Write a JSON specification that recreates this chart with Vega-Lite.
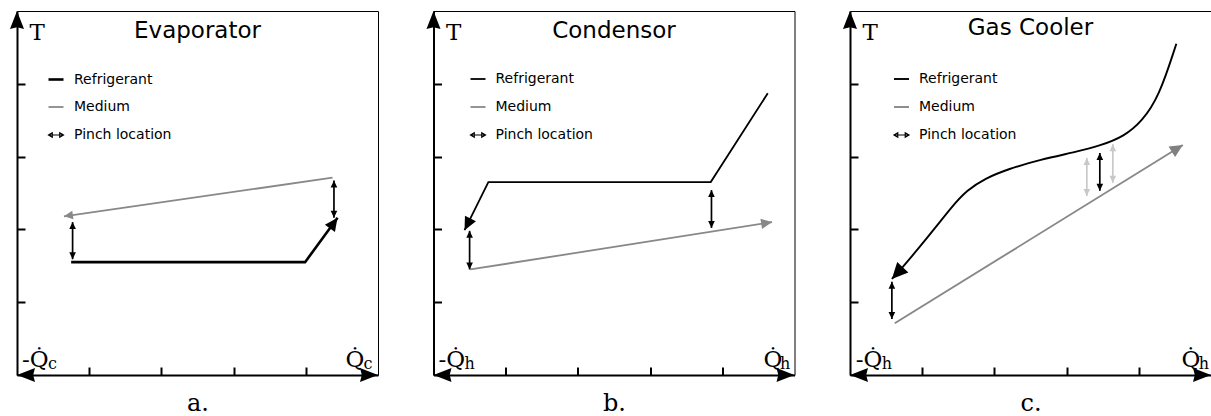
{
  "$schema": "https://vega.github.io/schema/vega-lite/v6.json",
  "autosize": {"type": "pad"},
  "padding": {"left": 9, "top": 10, "right": 0, "bottom": 0},
  "spacing": 55.5,
  "bounds": "flush",
  "config": {
    "view": {"stroke": "#000", "strokeWidth": 1},
    "axis": {
      "domainColor": "#000", "domainWidth": 2, "tickColor": "#000", "tickWidth": 2, "tickSize": -8,
      "labels": false, "grid": false, "titleFont": "DejaVu Serif", "titleFontWeight": "normal", "titleColor": "#000"
    },
    "legend": {
      "orient": "none", "title": null, "padding": 0, "symbolSize": 225, "symbolStrokeWidth": 2, "symbolType": "stroke",
      "labelFont": "DejaVu Sans", "labelFontSize": 14, "labelColor": "#000", "labelOffset": 9, "rowPadding": 12, "symbolOffset": 0
    },
    "title": {"font": "DejaVu Sans", "fontSize": 23, "fontWeight": "normal", "color": "#000", "anchor": "middle", "baseline": "alphabetic", "frame": "group"}
  },
  "resolve": {
    "scale": {"color": "independent", "shape": "independent", "size": "independent", "fill": "independent", "stroke": "independent", "strokeWidth": "independent", "x": "independent", "y": "independent"},
    "legend": {"color": "independent", "shape": "independent", "strokeWidth": "independent"}
  },
  "datasets": {
    "lines": [
      {"panel": "a", "series": "Refrigerant", "ord": 1, "x": 0.75, "y": 1.55},
      {"panel": "a", "series": "Refrigerant", "ord": 2, "x": 3.99, "y": 1.55},
      {"panel": "a", "series": "Refrigerant", "ord": 3, "x": 4.44, "y": 2.16},
      {"panel": "a", "series": "Medium", "ord": 1, "x": 0.65, "y": 2.18},
      {"panel": "a", "series": "Medium", "ord": 2, "x": 4.37, "y": 2.71},
      {"panel": "b", "series": "Refrigerant", "ord": 1, "x": 0.43, "y": 1.99},
      {"panel": "b", "series": "Refrigerant", "ord": 2, "x": 0.76, "y": 2.65},
      {"panel": "b", "series": "Refrigerant", "ord": 3, "x": 3.84, "y": 2.65},
      {"panel": "b", "series": "Refrigerant", "ord": 4, "x": 4.63, "y": 3.87},
      {"panel": "b", "series": "Medium", "ord": 1, "x": 0.51, "y": 1.45},
      {"panel": "b", "series": "Medium", "ord": 2, "x": 4.69, "y": 2.1},
      {"panel": "c", "series": "Refrigerant", "ord": 1, "x": 0.58, "y": 1.32},
      {"panel": "c", "series": "Refrigerant", "ord": 2, "x": 0.72, "y": 1.47},
      {"panel": "c", "series": "Refrigerant", "ord": 3, "x": 0.95, "y": 1.74},
      {"panel": "c", "series": "Refrigerant", "ord": 4, "x": 1.18, "y": 2.02},
      {"panel": "c", "series": "Refrigerant", "ord": 5, "x": 1.4, "y": 2.3},
      {"panel": "c", "series": "Refrigerant", "ord": 6, "x": 1.62, "y": 2.54},
      {"panel": "c", "series": "Refrigerant", "ord": 7, "x": 1.87, "y": 2.7},
      {"panel": "c", "series": "Refrigerant", "ord": 8, "x": 2.19, "y": 2.83},
      {"panel": "c", "series": "Refrigerant", "ord": 9, "x": 2.64, "y": 2.96},
      {"panel": "c", "series": "Refrigerant", "ord": 10, "x": 3.11, "y": 3.06},
      {"panel": "c", "series": "Refrigerant", "ord": 11, "x": 3.47, "y": 3.15},
      {"panel": "c", "series": "Refrigerant", "ord": 12, "x": 3.8, "y": 3.28},
      {"panel": "c", "series": "Refrigerant", "ord": 13, "x": 4.04, "y": 3.48},
      {"panel": "c", "series": "Refrigerant", "ord": 14, "x": 4.28, "y": 3.82},
      {"panel": "c", "series": "Refrigerant", "ord": 15, "x": 4.52, "y": 4.55},
      {"panel": "c", "series": "Medium", "ord": 1, "x": 0.62, "y": 0.71},
      {"panel": "c", "series": "Medium", "ord": 2, "x": 4.61, "y": 3.16}
    ],
    "pinch": [
      {"panel": "a", "kind": "pinch", "x": 0.77, "y": 2.1, "y2": 1.59},
      {"panel": "a", "kind": "pinch", "x": 4.39, "y": 2.67, "y2": 2.16},
      {"panel": "b", "kind": "pinch", "x": 0.5, "y": 1.98, "y2": 1.45},
      {"panel": "b", "kind": "pinch", "x": 3.85, "y": 2.54, "y2": 2.02},
      {"panel": "c", "kind": "pinch", "x": 0.58, "y": 1.28, "y2": 0.77},
      {"panel": "c", "kind": "pinch", "x": 3.46, "y": 3.05, "y2": 2.53},
      {"panel": "c", "kind": "pinch-light", "x": 3.28, "y": 2.98, "y2": 2.46},
      {"panel": "c", "kind": "pinch-light", "x": 3.64, "y": 3.17, "y2": 2.64}
    ],
    "heads": [
      {"panel": "a", "kind": "axis", "x": 0, "y": 5, "dir": 0},
      {"panel": "a", "kind": "axis", "x": 0, "y": 0, "dir": 270},
      {"panel": "a", "kind": "axis", "x": 5, "y": 0, "dir": 90},
      {"panel": "a", "kind": "Refrigerant", "x": 4.44, "y": 2.16, "dir": 36},
      {"panel": "a", "kind": "Medium", "x": 0.65, "y": 2.18, "dir": 262},
      {"panel": "a", "kind": "pinch", "x": 0.77, "y": 2.1, "dir": 0},
      {"panel": "a", "kind": "pinch", "x": 0.77, "y": 1.59, "dir": 180},
      {"panel": "a", "kind": "pinch", "x": 4.39, "y": 2.67, "dir": 0},
      {"panel": "a", "kind": "pinch", "x": 4.39, "y": 2.16, "dir": 180},
      {"panel": "b", "kind": "axis", "x": 0, "y": 5, "dir": 0},
      {"panel": "b", "kind": "axis", "x": 0, "y": 0, "dir": 270},
      {"panel": "b", "kind": "axis", "x": 5, "y": 0, "dir": 90},
      {"panel": "b", "kind": "Refrigerant", "x": 0.43, "y": 1.99, "dir": 207},
      {"panel": "b", "kind": "Medium", "x": 4.69, "y": 2.1, "dir": 81},
      {"panel": "b", "kind": "pinch", "x": 0.5, "y": 1.98, "dir": 0},
      {"panel": "b", "kind": "pinch", "x": 0.5, "y": 1.45, "dir": 180},
      {"panel": "b", "kind": "pinch", "x": 3.85, "y": 2.54, "dir": 0},
      {"panel": "b", "kind": "pinch", "x": 3.85, "y": 2.02, "dir": 180},
      {"panel": "c", "kind": "axis", "x": 0, "y": 5, "dir": 0},
      {"panel": "c", "kind": "axis", "x": 0, "y": 0, "dir": 270},
      {"panel": "c", "kind": "axis", "x": 5, "y": 0, "dir": 90},
      {"panel": "c", "kind": "Refrigerant", "x": 0.58, "y": 1.32, "dir": 223},
      {"panel": "c", "kind": "Medium", "x": 4.61, "y": 3.16, "dir": 58},
      {"panel": "c", "kind": "pinch", "x": 0.58, "y": 1.28, "dir": 0},
      {"panel": "c", "kind": "pinch", "x": 0.58, "y": 0.77, "dir": 180},
      {"panel": "c", "kind": "pinch", "x": 3.46, "y": 3.05, "dir": 0},
      {"panel": "c", "kind": "pinch", "x": 3.46, "y": 2.53, "dir": 180},
      {"panel": "c", "kind": "pinch-light", "x": 3.28, "y": 2.98, "dir": 0},
      {"panel": "c", "kind": "pinch-light", "x": 3.28, "y": 2.46, "dir": 180},
      {"panel": "c", "kind": "pinch-light", "x": 3.64, "y": 3.17, "dir": 0},
      {"panel": "c", "kind": "pinch-light", "x": 3.64, "y": 2.64, "dir": 180}
    ],
    "qlabels": [
      {"panel": "a", "part": "main", "x": 0.07, "y": 0.11, "text": "-Q̇"},
      {"panel": "a", "part": "sub", "x": 0.43, "y": 0.08, "text": "c"},
      {"panel": "a", "part": "main", "x": 4.55, "y": 0.11, "text": "Q̇"},
      {"panel": "a", "part": "sub", "x": 4.8, "y": 0.08, "text": "c"},
      {"panel": "b", "part": "main", "x": 0.07, "y": 0.11, "text": "-Q̇"},
      {"panel": "b", "part": "sub", "x": 0.43, "y": 0.08, "text": "h"},
      {"panel": "b", "part": "main", "x": 4.57, "y": 0.11, "text": "Q̇"},
      {"panel": "b", "part": "sub", "x": 4.8, "y": 0.08, "text": "h"},
      {"panel": "c", "part": "main", "x": 0.08, "y": 0.11, "text": "-Q̇"},
      {"panel": "c", "part": "sub", "x": 0.44, "y": 0.08, "text": "h"},
      {"panel": "c", "part": "main", "x": 4.59, "y": 0.11, "text": "Q̇"},
      {"panel": "c", "part": "sub", "x": 4.83, "y": 0.08, "text": "h"}
    ]
  },
  "hconcat": [
    {
      "width": 361, "height": 364,
      "title": {"text": "Evaporator", "offset": -32},
      "encoding": {
        "x": {"field": "x", "type": "quantitative", "scale": {"domain": [0, 5], "nice": false, "zero": false}, "axis": {"values": [1, 2, 3, 4], "title": "a.", "titleFontSize": 24, "titleY": 35, "titleBaseline": "alphabetic"}},
        "y": {"field": "y", "type": "quantitative", "scale": {"domain": [0, 5], "nice": false, "zero": false}, "axis": {"values": [1, 2, 3, 4], "title": "T", "titleAngle": 0, "titleX": 12, "titleY": 28, "titleAlign": "left", "titleBaseline": "alphabetic", "titleFontSize": 23}}
      },
      "layer": [
        {
          "data": {"name": "lines"},
          "transform": [{"filter": "datum.panel === 'a'"}],
          "mark": {"type": "line", "interpolate": "linear"},
          "encoding": {
            "order": {"field": "ord", "type": "quantitative"},
            "strokeWidth": {"field": "series", "type": "ordinal", "scale": {"type": "ordinal", "domain": ["Refrigerant", "Medium", "Pinch location"], "range": [2.6, 1.8, 1.2]}, "legend": {"legendX": 30, "legendY": 59.5}},
            "color": {"field": "series", "type": "nominal", "scale": {"domain": ["Refrigerant", "Medium", "Pinch location"], "range": ["#000000", "#888888", "#000000"]}, "legend": {"legendX": 30, "legendY": 59.5}}
          }
        },
        {
          "data": {"name": "lines"},
          "transform": [{"filter": "false"}],
          "mark": {"type": "point", "filled": false, "opacity": 1},
          "encoding": {
            "color": {"field": "series", "type": "nominal", "scale": {"domain": ["Refrigerant", "Medium", "Pinch location"], "range": ["#000000", "#888888", "#000000"]}, "legend": {"legendX": 30, "legendY": 59.5}},
            "shape": {"field": "series", "type": "nominal", "scale": {"domain": ["Refrigerant", "Medium", "Pinch location"], "range": ["stroke", "stroke", "M-1,0L1,0M-1,0L-0.5,-0.3L-0.5,0.3ZM1,0L0.5,-0.3L0.5,0.3Z"]}, "legend": {"legendX": 30, "legendY": 59.5}}
          }
        },
        {
          "data": {"name": "pinch"},
          "transform": [{"filter": "datum.panel === 'a'"}],
          "mark": {"type": "rule", "strokeWidth": 1.7},
          "encoding": {"y2": {"field": "y2"}, "stroke": {"field": "kind", "type": "nominal", "scale": {"domain": ["pinch", "pinch-light"], "range": ["#000000", "#c8c8c8"]}, "legend": null}}
        },
        {
          "data": {"name": "heads"},
          "transform": [{"filter": "datum.panel === 'a' && datum.kind === 'axis'"}],
          "mark": {"type": "point", "shape": "M0,0L-0.78,2L0,1.8L0.78,2Z", "size": 324, "filled": true, "opacity": 1, "strokeWidth": 0, "color": "#000"},
          "encoding": {"angle": {"field": "dir", "type": "quantitative", "scale": {"domain": [0, 360], "range": [0, 360]}}}
        },
        {
          "data": {"name": "heads"},
          "transform": [{"filter": "datum.panel === 'a' && datum.kind !== 'axis'"}],
          "mark": {"type": "point", "shape": "M0,0L-0.95,2L0.95,2Z", "filled": true, "opacity": 1, "strokeWidth": 0},
          "encoding": {
            "angle": {"field": "dir", "type": "quantitative", "scale": {"domain": [0, 360], "range": [0, 360]}},
            "size": {"field": "kind", "type": "ordinal", "scale": {"type": "ordinal", "domain": ["pinch", "pinch-light", "Refrigerant", "Medium"], "range": [49, 49, 169, 81]}, "legend": null},
            "fill": {"field": "kind", "type": "nominal", "scale": {"domain": ["pinch", "pinch-light", "Refrigerant", "Medium"], "range": ["#000000", "#c8c8c8", "#000000", "#888888"]}, "legend": null}
          }
        },
        {
          "data": {"name": "qlabels"},
          "transform": [{"filter": "datum.panel === 'a' && datum.part === 'main'"}],
          "mark": {"type": "text", "font": "DejaVu Serif", "fontSize": 23, "align": "left", "baseline": "alphabetic", "color": "#000"},
          "encoding": {"text": {"field": "text"}}
        },
        {
          "data": {"name": "qlabels"},
          "transform": [{"filter": "datum.panel === 'a' && datum.part === 'sub'"}],
          "mark": {"type": "text", "font": "DejaVu Serif", "fontSize": 16, "align": "left", "baseline": "alphabetic", "color": "#000"},
          "encoding": {"text": {"field": "text"}}
        }
      ]
    },
    {
      "width": 361, "height": 364,
      "title": {"text": "Condensor", "offset": -32},
      "encoding": {
        "x": {"field": "x", "type": "quantitative", "scale": {"domain": [0, 5], "nice": false, "zero": false}, "axis": {"values": [1, 2, 3, 4], "title": "b.", "titleFontSize": 24, "titleY": 35, "titleBaseline": "alphabetic"}},
        "y": {"field": "y", "type": "quantitative", "scale": {"domain": [0, 5], "nice": false, "zero": false}, "axis": {"values": [1, 2, 3, 4], "title": "T", "titleAngle": 0, "titleX": 12, "titleY": 28, "titleAlign": "left", "titleBaseline": "alphabetic", "titleFontSize": 23}}
      },
      "layer": [
        {
          "data": {"name": "lines"},
          "transform": [{"filter": "datum.panel === 'b'"}],
          "mark": {"type": "line", "interpolate": "linear"},
          "encoding": {
            "order": {"field": "ord", "type": "quantitative"},
            "strokeWidth": {"field": "series", "type": "ordinal", "scale": {"type": "ordinal", "domain": ["Refrigerant", "Medium", "Pinch location"], "range": [1.8, 1.8, 1.2]}, "legend": {"legendX": 36, "legendY": 59.5}},
            "color": {"field": "series", "type": "nominal", "scale": {"domain": ["Refrigerant", "Medium", "Pinch location"], "range": ["#000000", "#888888", "#000000"]}, "legend": {"legendX": 36, "legendY": 59.5}}
          }
        },
        {
          "data": {"name": "lines"},
          "transform": [{"filter": "false"}],
          "mark": {"type": "point", "filled": false, "opacity": 1},
          "encoding": {
            "color": {"field": "series", "type": "nominal", "scale": {"domain": ["Refrigerant", "Medium", "Pinch location"], "range": ["#000000", "#888888", "#000000"]}, "legend": {"legendX": 36, "legendY": 59.5}},
            "shape": {"field": "series", "type": "nominal", "scale": {"domain": ["Refrigerant", "Medium", "Pinch location"], "range": ["stroke", "stroke", "M-1,0L1,0M-1,0L-0.5,-0.3L-0.5,0.3ZM1,0L0.5,-0.3L0.5,0.3Z"]}, "legend": {"legendX": 36, "legendY": 59.5}}
          }
        },
        {
          "data": {"name": "pinch"},
          "transform": [{"filter": "datum.panel === 'b'"}],
          "mark": {"type": "rule", "strokeWidth": 1.7},
          "encoding": {"y2": {"field": "y2"}, "stroke": {"field": "kind", "type": "nominal", "scale": {"domain": ["pinch", "pinch-light"], "range": ["#000000", "#c8c8c8"]}, "legend": null}}
        },
        {
          "data": {"name": "heads"},
          "transform": [{"filter": "datum.panel === 'b' && datum.kind === 'axis'"}],
          "mark": {"type": "point", "shape": "M0,0L-0.78,2L0,1.8L0.78,2Z", "size": 324, "filled": true, "opacity": 1, "strokeWidth": 0, "color": "#000"},
          "encoding": {"angle": {"field": "dir", "type": "quantitative", "scale": {"domain": [0, 360], "range": [0, 360]}}}
        },
        {
          "data": {"name": "heads"},
          "transform": [{"filter": "datum.panel === 'b' && datum.kind !== 'axis'"}],
          "mark": {"type": "point", "shape": "M0,0L-0.95,2L0.95,2Z", "filled": true, "opacity": 1, "strokeWidth": 0},
          "encoding": {
            "angle": {"field": "dir", "type": "quantitative", "scale": {"domain": [0, 360], "range": [0, 360]}},
            "size": {"field": "kind", "type": "ordinal", "scale": {"type": "ordinal", "domain": ["pinch", "pinch-light", "Refrigerant", "Medium"], "range": [49, 49, 169, 121]}, "legend": null},
            "fill": {"field": "kind", "type": "nominal", "scale": {"domain": ["pinch", "pinch-light", "Refrigerant", "Medium"], "range": ["#000000", "#c8c8c8", "#000000", "#888888"]}, "legend": null}
          }
        },
        {
          "data": {"name": "qlabels"},
          "transform": [{"filter": "datum.panel === 'b' && datum.part === 'main'"}],
          "mark": {"type": "text", "font": "DejaVu Serif", "fontSize": 23, "align": "left", "baseline": "alphabetic", "color": "#000"},
          "encoding": {"text": {"field": "text"}}
        },
        {
          "data": {"name": "qlabels"},
          "transform": [{"filter": "datum.panel === 'b' && datum.part === 'sub'"}],
          "mark": {"type": "text", "font": "DejaVu Serif", "fontSize": 16, "align": "left", "baseline": "alphabetic", "color": "#000"},
          "encoding": {"text": {"field": "text"}}
        }
      ]
    },
    {
      "width": 361, "height": 364,
      "title": {"text": "Gas Cooler", "offset": -29},
      "encoding": {
        "x": {"field": "x", "type": "quantitative", "scale": {"domain": [0, 5], "nice": false, "zero": false}, "axis": {"values": [1, 2, 3, 4], "title": "c.", "titleFontSize": 24, "titleY": 35, "titleBaseline": "alphabetic"}},
        "y": {"field": "y", "type": "quantitative", "scale": {"domain": [0, 5], "nice": false, "zero": false}, "axis": {"values": [1, 2, 3, 4], "title": "T", "titleAngle": 0, "titleX": 12, "titleY": 28, "titleAlign": "left", "titleBaseline": "alphabetic", "titleFontSize": 23}}
      },
      "layer": [
        {
          "data": {"name": "lines"},
          "transform": [{"filter": "datum.panel === 'c'"}],
          "mark": {"type": "line", "interpolate": "basis"},
          "encoding": {
            "order": {"field": "ord", "type": "quantitative"},
            "strokeWidth": {"field": "series", "type": "ordinal", "scale": {"type": "ordinal", "domain": ["Refrigerant", "Medium", "Pinch location"], "range": [1.9, 1.9, 1.2]}, "legend": {"legendX": 43, "legendY": 59.5}},
            "color": {"field": "series", "type": "nominal", "scale": {"domain": ["Refrigerant", "Medium", "Pinch location"], "range": ["#000000", "#888888", "#000000"]}, "legend": {"legendX": 43, "legendY": 59.5}}
          }
        },
        {
          "data": {"name": "lines"},
          "transform": [{"filter": "false"}],
          "mark": {"type": "point", "filled": false, "opacity": 1},
          "encoding": {
            "color": {"field": "series", "type": "nominal", "scale": {"domain": ["Refrigerant", "Medium", "Pinch location"], "range": ["#000000", "#888888", "#000000"]}, "legend": {"legendX": 43, "legendY": 59.5}},
            "shape": {"field": "series", "type": "nominal", "scale": {"domain": ["Refrigerant", "Medium", "Pinch location"], "range": ["stroke", "stroke", "M-1,0L1,0M-1,0L-0.5,-0.3L-0.5,0.3ZM1,0L0.5,-0.3L0.5,0.3Z"]}, "legend": {"legendX": 43, "legendY": 59.5}}
          }
        },
        {
          "data": {"name": "pinch"},
          "transform": [{"filter": "datum.panel === 'c'"}],
          "mark": {"type": "rule", "strokeWidth": 1.7},
          "encoding": {"y2": {"field": "y2"}, "stroke": {"field": "kind", "type": "nominal", "scale": {"domain": ["pinch", "pinch-light"], "range": ["#000000", "#c8c8c8"]}, "legend": null}}
        },
        {
          "data": {"name": "heads"},
          "transform": [{"filter": "datum.panel === 'c' && datum.kind === 'axis'"}],
          "mark": {"type": "point", "shape": "M0,0L-0.78,2L0,1.8L0.78,2Z", "size": 324, "filled": true, "opacity": 1, "strokeWidth": 0, "color": "#000"},
          "encoding": {"angle": {"field": "dir", "type": "quantitative", "scale": {"domain": [0, 360], "range": [0, 360]}}}
        },
        {
          "data": {"name": "heads"},
          "transform": [{"filter": "datum.panel === 'c' && datum.kind !== 'axis'"}],
          "mark": {"type": "point", "shape": "M0,0L-0.95,2L0.95,2Z", "filled": true, "opacity": 1, "strokeWidth": 0},
          "encoding": {
            "angle": {"field": "dir", "type": "quantitative", "scale": {"domain": [0, 360], "range": [0, 360]}},
            "size": {"field": "kind", "type": "ordinal", "scale": {"type": "ordinal", "domain": ["pinch", "pinch-light", "Refrigerant", "Medium"], "range": [49, 49, 256, 169]}, "legend": null},
            "fill": {"field": "kind", "type": "nominal", "scale": {"domain": ["pinch", "pinch-light", "Refrigerant", "Medium"], "range": ["#000000", "#c8c8c8", "#000000", "#808080"]}, "legend": null}
          }
        },
        {
          "data": {"name": "qlabels"},
          "transform": [{"filter": "datum.panel === 'c' && datum.part === 'main'"}],
          "mark": {"type": "text", "font": "DejaVu Serif", "fontSize": 23, "align": "left", "baseline": "alphabetic", "color": "#000"},
          "encoding": {"text": {"field": "text"}}
        },
        {
          "data": {"name": "qlabels"},
          "transform": [{"filter": "datum.panel === 'c' && datum.part === 'sub'"}],
          "mark": {"type": "text", "font": "DejaVu Serif", "fontSize": 16, "align": "left", "baseline": "alphabetic", "color": "#000"},
          "encoding": {"text": {"field": "text"}}
        }
      ]
    }
  ]
}
